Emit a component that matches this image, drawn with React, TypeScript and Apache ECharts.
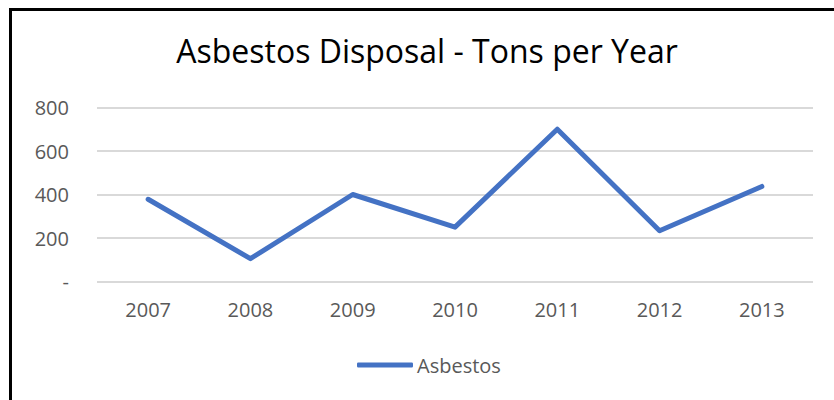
import React, { useEffect, useRef } from "react";
import * as echarts from "echarts";

const years = ["2007", "2008", "2009", "2010", "2011", "2012", "2013"];
const asbestos = [378, 105, 400, 250, 700, 233, 437];
const yTicks = [0, 200, 400, 600, 800];
const titleText = "Asbestos Disposal - Tons per Year";
const seriesName = "Asbestos";

export default function App() {
  const ref = useRef<HTMLDivElement>(null);
  useEffect(() => {
    if (!ref.current) return;
    const chart = echarts.init(ref.current, null, { renderer: "svg" });
    const font = "'Open Sans', sans-serif";
    chart.setOption({
      animation: false,
      backgroundColor: "#ffffff",
      title: {
        text: titleText,
        left: 422,
        textAlign: "center",
        top: 29,
        textStyle: { fontFamily: font, fontSize: 32, fontWeight: "normal", color: "#000000" },
      },
      legend: {
        data: [seriesName],
        left: 357,
        top: 355,
        padding: 0,
        icon: "roundRect",
        itemWidth: 56,
        itemHeight: 5,
        itemGap: 10,
        textStyle: { fontFamily: font, fontSize: 20, color: "#595959", padding: [0, 0, 0, -1] },
      },
      grid: { left: 97, right: 21, top: 107.5, bottom: 118.5, containLabel: false },
      xAxis: {
        type: "category",
        data: years,
        boundaryGap: true,
        axisLine: { show: false },
        axisTick: { show: false },
        axisLabel: { fontFamily: font, fontSize: 20, color: "#595959", margin: 18 },
      },
      yAxis: {
        type: "value",
        min: yTicks[0],
        max: yTicks[yTicks.length - 1],
        interval: 200,
        axisLine: { show: false },
        axisTick: { show: false },
        splitLine: { lineStyle: { color: "#d9d9d9", width: 2 } },
        axisLabel: {
          fontFamily: font,
          fontSize: 20,
          color: "#595959",
          margin: 28,
          formatter: (v: number) => (v === 0 ? "-" : String(v)),
        },
      },
      series: [
        {
          name: seriesName,
          type: "line",
          data: asbestos,
          symbol: "none",
          lineStyle: { color: "#4472C4", width: 5, cap: "round", join: "round" },
          itemStyle: { color: "#4472C4" },
        },
      ],
      graphic: [
        { type: "line", shape: { x1: 10.5, y1: 8, x2: 10.5, y2: 400 }, style: { stroke: "#000", lineWidth: 3 } },
        { type: "line", shape: { x1: 9, y1: 9.5, x2: 834, y2: 9.5 }, style: { stroke: "#000", lineWidth: 3 } },
      ],
    });
    return () => chart.dispose();
  }, []);
  return (
    <div style={{ position: "absolute", left: 0, top: 0, width: 834, height: 400, overflow: "hidden" }}>
      <div ref={ref} style={{ width: 834, height: 400 }} />
    </div>
  );
}
